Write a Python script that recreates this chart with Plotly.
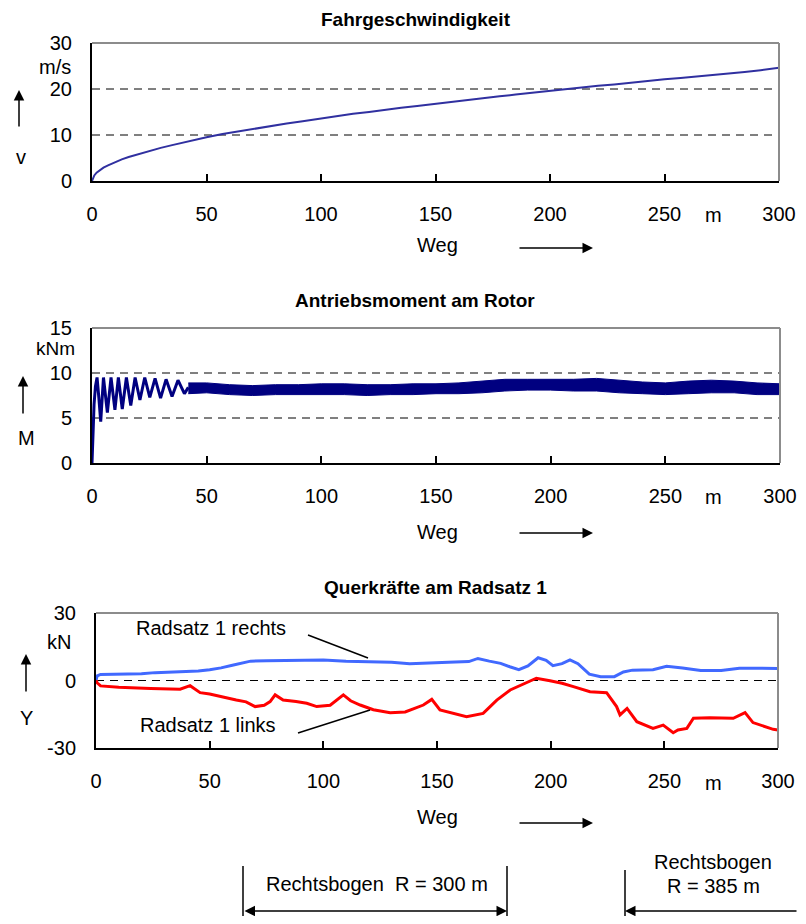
import plotly.graph_objects as go

# The page body has an 8px default margin, so the figure is sized to fit inside it
OFF = 8
W, H = 790, 908
FONT = "Liberation Sans, Arial, sans-serif"

# ---------------- data ----------------
# Fahrgeschwindigkeit v [m/s] over Weg s [m]
weg_v = [0, 1, 2, 3, 5, 7, 10, 13, 16, 20, 25, 30, 35, 40, 45, 50, 57, 64, 71, 78,
         85, 92, 100, 107, 114, 121, 128, 135, 142, 150, 157, 164, 171, 178, 185,
         192, 200, 207, 214, 221, 228, 235, 242, 250, 257, 264, 271, 278, 285, 292, 300]
v_vals = [0, 1.2, 1.8, 2.2, 2.9, 3.4, 4.1, 4.7, 5.2, 5.8, 6.5, 7.2, 7.8, 8.4, 9.0,
          9.5, 10.2, 10.8, 11.4, 12.0, 12.5, 13.0, 13.6, 14.1, 14.6, 15.0, 15.5,
          15.9, 16.3, 16.8, 17.2, 17.6, 18.0, 18.4, 18.8, 19.2, 19.6, 19.9, 20.3,
          20.7, 21.0, 21.4, 21.7, 22.1, 22.4, 22.7, 23.1, 23.4, 23.7, 24.1, 24.6]

# Antriebsmoment am Rotor M [kNm]: start-up oscillation
weg_m = [0, 0.4, 0.9, 1.5, 2.2, 3.0, 3.8, 5.0, 6.7, 8.3, 10.0, 11.5, 13.2, 15.0,
         16.9, 18.8, 20.9, 23.0, 25.2, 27.5, 29.9, 32.3, 34.9, 37.5, 40.3, 42]
m_vals = [0, 4.0, 6.5, 8.5, 9.5, 7.2, 4.6, 9.5, 5.6, 9.5, 5.9, 9.5, 6.0, 9.5, 6.4,
          9.5, 7.0, 9.5, 7.3, 9.4, 7.2, 9.3, 7.4, 9.2, 7.7, 8.4]
# fast oscillation band afterwards (upper / lower envelope)
weg_band = [42, 50, 60, 70, 80, 90, 100, 110, 120, 130, 140, 150, 160, 170, 180,
            190, 200, 210, 220, 230, 240, 250, 260, 270, 280, 290, 300]
m_upper = [8.9, 8.9, 8.7, 8.6, 8.7, 8.7, 8.8, 8.8, 8.7, 8.7, 8.8, 8.8, 8.9, 9.1,
           9.3, 9.3, 9.3, 9.3, 9.4, 9.2, 9.0, 8.9, 9.1, 9.2, 9.1, 8.9, 8.8]
m_lower = [7.7, 7.8, 7.6, 7.5, 7.6, 7.6, 7.6, 7.6, 7.5, 7.6, 7.6, 7.7, 7.7, 7.8,
           8.0, 8.1, 8.1, 8.0, 8.0, 7.8, 7.7, 7.6, 7.7, 7.8, 7.8, 7.6, 7.6]

# Querkräfte am Radsatz 1 Y [kN]
weg_re = [0, 0.5, 2, 10, 20, 26, 30, 40, 45, 50, 55, 60, 65, 68, 75, 85, 95, 100,
          110, 120, 130, 138, 145, 155, 164, 168, 173, 178, 182, 186, 190, 194.5,
          198, 201, 205, 208.5, 212, 217, 222, 228, 232, 236, 245, 251, 258, 266,
          275, 283, 290, 300]
y_rechts = [0, 2.0, 2.7, 2.8, 3.0, 3.5, 3.6, 3.8, 4.2, 4.8, 5.6, 6.8, 8.0, 8.6,
            8.8, 8.8, 9.0, 9.1, 8.6, 8.4, 8.1, 7.4, 7.8, 8.1, 8.4, 9.8, 8.6, 7.6,
            6.1, 4.8, 6.5, 10.1, 9.0, 6.6, 7.5, 9.2, 7.5, 2.8, 1.7, 1.7, 3.8, 4.6,
            4.8, 6.3, 5.6, 4.4, 4.5, 5.4, 5.5, 5.3]
weg_li = [0, 0.5, 2, 10, 24, 37, 41.4, 43, 45.8, 50, 56, 61.7, 66, 70, 74, 76.6,
          78.8, 82.3, 88, 92.7, 97.1, 103, 108.8, 112, 116.2, 122, 129.4, 136, 144,
          147.7, 151.3, 157, 163, 170.3, 176.3, 182.2, 187, 191, 193.7, 199.7, 205,
          210, 217.3, 224.6, 229, 230.5, 233.6, 237.9, 241, 245, 249.5, 253.9, 256,
          259.9, 262.8, 270, 280.3, 285.5, 289, 293, 297.9, 300]
y_links = [0, -1.0, -2.4, -3.0, -3.5, -3.9, -2.3, -3.5, -5.4, -6.0, -7.5, -8.7,
           -9.5, -11.6, -11.0, -9.4, -6.4, -8.7, -9.3, -10.1, -11.6, -11.0, -6.4,
           -9.0, -10.9, -13.0, -14.3, -14.0, -10.9, -8.4, -13.1, -14.5, -16.1,
           -14.6, -8.7, -4.2, -2.0, -0.1, 1.0, -0.1, -1.2, -2.7, -5.0, -5.4, -11.6,
           -15.3, -12.4, -18.3, -19.5, -21.3, -19.8, -23.2, -22.0, -21.3, -16.8,
           -16.5, -16.8, -14.3, -18.7, -20.0, -21.7, -22.0]

x_ticks = [0, 50, 100, 150, 200, 250, 300]
v_ticks = [0, 10, 20, 30]
m_ticks = [0, 5, 10, 15]
y_ticks = [-30, 0, 30]
y_ticktext = ["-30", "0", "30"]

# ---------------- helpers (page pixel -> paper fraction) ----------------
def px(x):
    return (x - OFF) / W

def py(y):
    return 1 - (y - OFF) / H

fig = go.Figure()

fig.add_trace(go.Scatter(x=weg_v, y=v_vals, mode="lines", line=dict(color="#3030a0", width=2),
                         xaxis="x", yaxis="y", hoverinfo="skip"))
fig.add_trace(go.Scatter(x=weg_m, y=m_vals, mode="lines", line=dict(color="#000080", width=3),
                         xaxis="x2", yaxis="y2", hoverinfo="skip"))
fig.add_trace(go.Scatter(x=weg_band, y=m_lower, mode="lines", line=dict(color="#000080", width=1),
                         xaxis="x2", yaxis="y2", hoverinfo="skip"))
fig.add_trace(go.Scatter(x=weg_band, y=m_upper, mode="lines", line=dict(color="#000080", width=1),
                         fill="tonexty", fillcolor="#000080", xaxis="x2", yaxis="y2", hoverinfo="skip"))
fig.add_trace(go.Scatter(x=weg_re, y=y_rechts, mode="lines", line=dict(color="#4169ff", width=3),
                         xaxis="x3", yaxis="y3", hoverinfo="skip"))
fig.add_trace(go.Scatter(x=weg_li, y=y_links, mode="lines", line=dict(color="#ff0000", width=3),
                         xaxis="x3", yaxis="y3", hoverinfo="skip"))

tickfont = dict(family=FONT, size=20, color="black")

def xaxis(domain, anchor):
    return dict(domain=domain, anchor=anchor, range=[0, 300], tickvals=x_ticks,
                ticks="inside", ticklen=7, tickwidth=2, tickcolor="black",
                showline=True, linecolor="black", linewidth=2, showgrid=False,
                zeroline=False, tickfont=tickfont, ticklabelstandoff=14,
                automargin=False, fixedrange=True)

def yaxis(domain, anchor, rng, tv, tt=None):
    d = dict(domain=domain, anchor=anchor, range=rng, tickvals=tv, ticks="",
             showline=True, linecolor="black", linewidth=2, showgrid=False,
             zeroline=False, tickfont=tickfont, ticklabelstandoff=14,
             automargin=False, fixedrange=True)
    if tt:
        d["ticktext"] = tt
    return d

fig.update_layout(
    width=W, height=H, margin=dict(l=0, r=0, t=0, b=0, autoexpand=False),
    paper_bgcolor="white", plot_bgcolor="white", showlegend=False,
    xaxis=xaxis([px(92), px(779)], "y"),
    yaxis=yaxis([py(181), py(43)], "x", [0, 30], v_ticks),
    xaxis2=xaxis([px(92), px(780)], "y2"),
    yaxis2=yaxis([py(463), py(328)], "x2", [0, 15], m_ticks),
    xaxis3=xaxis([px(96), px(778)], "y3"),
    yaxis3=yaxis([py(748), py(613)], "x3", [-30, 30], y_ticks, y_ticktext),
)

shapes = []
# dashed grid lines and gray top/right frame
for xa, ya, vals in [("x", "y", [10, 20]), ("x2", "y2", [5, 10]), ("x3", "y3", [0])]:
    for val in vals:
        shapes.append(dict(type="line", xref=xa + " domain", yref=ya, x0=0, x1=1, y0=val, y1=val,
                           line=dict(color="black", width=1, dash="8px,6px"), layer="below"))
    shapes.append(dict(type="line", xref=xa + " domain", yref=ya + " domain", x0=0, x1=1, y0=1, y1=1,
                       line=dict(color="#8c8c8c", width=2)))
    shapes.append(dict(type="line", xref=xa + " domain", yref=ya + " domain", x0=1, x1=1, y0=0, y1=1,
                       line=dict(color="#8c8c8c", width=2)))

# leader lines for series labels
for (x0, y0, x1, y1) in [(308, 635, 368, 658), (298, 733, 370, 710)]:
    shapes.append(dict(type="line", xref="paper", yref="paper", x0=px(x0), y0=py(y0), x1=px(x1), y1=py(y1),
                       line=dict(color="black", width=1.5)))
# bottom curve markers
for (x0, y0, x1, y1) in [(243, 866, 243, 916), (507, 866, 507, 916), (625, 870, 625, 916)]:
    shapes.append(dict(type="line", xref="paper", yref="paper", x0=px(x0), y0=py(y0), x1=px(x1), y1=py(y1),
                       line=dict(color="black", width=1.5)))
fig.update_layout(shapes=shapes)

ann = []

def text(t, x, y, size=20, bold=False, xanchor="center", yanchor="middle"):
    ann.append(dict(text=("<b>%s</b>" % t) if bold else t, x=px(x), y=py(y), xref="paper", yref="paper",
                    xanchor=xanchor, yanchor=yanchor, showarrow=False, borderpad=0,
                    font=dict(family=FONT, size=size, color="black")))

def arrow(xh, yh, xt, yt, both=False):
    ann.append(dict(text="", x=px(xh), y=py(yh), xref="paper", yref="paper", showarrow=True,
                    ax=xt - xh, ay=yt - yh, axref="pixel", ayref="pixel",
                    arrowhead=2, arrowsize=1.4, arrowwidth=1.5, arrowcolor="black",
                    startarrowhead=2, startarrowsize=1.4,
                    arrowside="end+start" if both else "end"))

# titles
text("Fahrgeschwindigkeit", 416, 8, 19, True, yanchor="top")
text("Antriebsmoment am Rotor", 415, 300, 19, True)
text("Querkräfte am Radsatz 1", 435, 587, 19, True)

# axis quantities
text("m/s", 72, 67, 20, xanchor="right")
arrow(19, 90, 19, 128)
text("v", 21, 157)
text("kNm", 76, 348, 19, xanchor="right")
arrow(23, 376, 23, 415)
text("M", 26, 438)
text("kN", 72, 642, 20, xanchor="right")
arrow(26, 654, 26, 693)
text("Y", 26, 718)

for yl, yw, ya in [(215, 245, 248), (497, 532, 533), (783, 817, 823)]:
    text("m", 713, yl)
    text("Weg", 437, yw)
    arrow(593, ya, 518, ya)

# series labels
text("Radsatz 1 rechts", 211, 628)
text("Radsatz 1 links", 208, 725)

# curve sections
text("Rechtsbogen  R = 300 m", 377, 884)
arrow(507, 911, 243, 911, both=True)
text("Rechtsbogen", 713, 862)
text("R = 385 m", 713, 886)
arrow(625, 911, 798, 911)

fig.update_layout(annotations=ann)
fig.write_html("out.html")
